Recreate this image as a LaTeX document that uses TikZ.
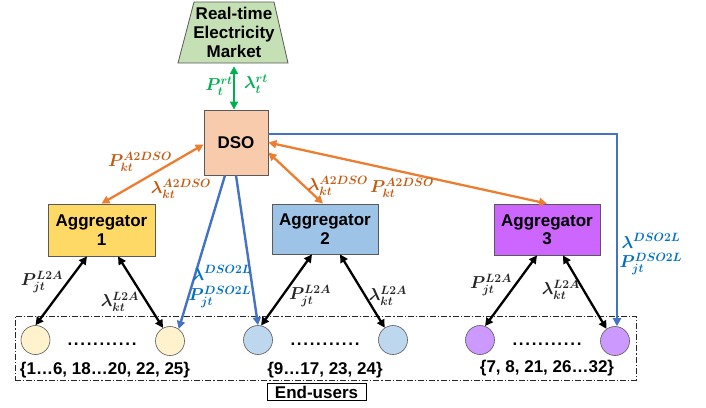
\documentclass[tikz,border=0pt]{standalone}
\usepackage{amsmath,bm}
\usepackage{fontspec}
\setmainfont{Liberation Sans}
\DeclareMathSizes{18}{18}{11.5}{9}
\usetikzlibrary{arrows.meta,calc}
\definecolor{boxline}{HTML}{595959}
\definecolor{dsofill}{HTML}{F8CBAD}
\definecolor{mktfill}{HTML}{C5E0B4}
\definecolor{aoneF}{HTML}{FFD966}
\definecolor{atwoF}{HTML}{9DC3E6}
\definecolor{athreeF}{HTML}{CC66FF}
\definecolor{cyel}{HTML}{FFF2CC}
\definecolor{cblue}{HTML}{BDD7EE}
\definecolor{cpurp}{HTML}{CC99FF}
\definecolor{orgline}{HTML}{ED7D31}
\definecolor{orgtext}{HTML}{C55A11}
\definecolor{blueline}{HTML}{4472C4}
\definecolor{bluetext}{HTML}{0070C0}
\definecolor{grn}{HTML}{00B050}
\definecolor{blk}{HTML}{262626}
\begin{document}
\begin{tikzpicture}[x=1pt,y=-1pt,
  box/.style={draw=boxline, line width=0.8pt, inner sep=0pt, align=center,
    font=\fontsize{17}{18.5}\selectfont\bfseries},
  ucirc/.style={circle, draw=boxline, line width=0.6pt, minimum size=29pt, inner sep=0pt},
  lab/.style={inner sep=0pt, font=\fontsize{18}{20}\selectfont},
  grp/.style={inner sep=0pt, font=\fontsize{17}{19}\selectfont\bfseries},
  dots/.style={inner sep=0pt, anchor=base, font=\fontsize{17}{19}\selectfont\bfseries\addfontfeatures{LetterSpace=10}},
  tip/.style={-{Triangle[length=8pt,width=8pt]}},
  dtip/.style={{Triangle[length=8pt,width=8pt]}-{Triangle[length=8pt,width=8pt]}},
  blkarrow/.style={dtip, draw=black, line width=2.3pt},
  orgarrow/.style={dtip, draw=orgline, line width=2.3pt},
  bluearrow/.style={tip, draw=blueline, line width=2.4pt},
  grnarrow/.style={dtip, draw=grn, line width=2.3pt}
]
\useasboundingbox (0,0) rectangle (706,407);

% market
\filldraw[fill=mktfill, draw=boxline, line width=0.8pt] (178,63) -- (194,2) -- (274,2) -- (288,63) -- cycle;
\node[inner sep=0pt, minimum width=110pt, minimum height=61pt, align=center,
  font=\fontsize{17}{19}\selectfont\bfseries] (mkt) at (234,32.5) {Real-time\\Electricity\\Market};

% DSO and aggregators
\node[box, fill=dsofill, minimum width=64pt, minimum height=65pt] (dso) at (236,142.5) {DSO};
\node[box, fill=aoneF, minimum width=107pt, minimum height=52pt] (agg1) at (101.5,230) {Aggregator\\1};
\node[box, fill=atwoF, minimum width=106pt, minimum height=50pt] (agg2) at (325,229) {Aggregator\\2};
\node[box, fill=athreeF, minimum width=106pt, minimum height=51pt] (agg3) at (547,229.5) {Aggregator\\3};

% end-user group
\node[draw=blk, line width=0.6pt, dash pattern=on 6pt off 2pt on 1.2pt off 2pt,
  minimum width=621pt, minimum height=64pt, inner sep=0pt] (grpbox) at (325.5,348) {};
\node[draw=black, line width=0.8pt, minimum width=99pt, minimum height=17pt, inner sep=0pt,
  font=\fontsize{17}{19}\selectfont\bfseries] (eu) at (316.5,392) {End-users};

\node[ucirc, fill=cyel] (c1) at (35.5,340) {};
\node[ucirc, fill=cyel] (c2) at (170,341) {};
\node[ucirc, fill=cblue] (c3) at (258,340) {};
\node[ucirc, fill=cblue] (c4) at (393,340) {};
\node[ucirc, fill=cpurp] (c5) at (480,340) {};
\node[ucirc, fill=cpurp] (c6) at (615,341) {};

\node[dots] (d1) at (102,345) {...........};
\node[dots] (d2) at (325,345) {...........};
\node[dots] (d3) at (547,345) {...........};

\node[grp] (g1) at (105,370) {\{1…6, 18…20, 22, 25\}};
\node[grp] (g2) at (325,370) {\{9…17, 23, 24\}};
\node[grp] (g3) at (547,368) {\{7, 8, 21, 26…32\}};

% green
\draw[grnarrow] ([yshift=-3pt]mkt.south) -- (mkt.south |- dso.north);
\node[lab, text=grn] (prt) at (219,86) {$\bm{P_t^{rt}}$};
\node[lab, text=grn] (lrt) at (256,84) {$\bm{\lambda_t^{rt}}$};

% orange
\draw[orgarrow] ([yshift=-2pt]dso.west) -- (agg1.north);
\draw[orgarrow] ([yshift=-10pt]dso.east) -- ([xshift=-2pt]agg2.north);
\draw[orgarrow] (dso.east) -- (agg3.north);
\node[lab, text=orgtext] (pa1) at (140,162) {$\bm{P_{kt}^{A2DSO}}$};
\node[lab, text=orgtext] (la1) at (181,189) {$\bm{\lambda_{kt}^{A2DSO}}$};
\node[lab, text=orgtext] (la2) at (338,186) {$\bm{\lambda_{kt}^{A2DSO}}$};
\node[lab, text=orgtext] (pa2) at (402,188) {$\bm{P_{kt}^{A2DSO}}$};

% blue
\draw[bluearrow] ([yshift=8.5pt]dso.east) -| ([xshift=2pt]c6.north);
\draw[bluearrow] ([xshift=-11pt]dso.south) -- (c2.54);
\draw[bluearrow] (dso.south) -- (c3.north);
\node[lab, text=bluetext] (ld1) at (222,273) {$\bm{\lambda^{DSO2L}}$};
\node[lab, text=bluetext] (pd1) at (220,297) {$\bm{P_{jt}^{DSO2L}}$};
\node[lab, text=bluetext] (ld2) at (651,241) {$\bm{\lambda^{DSO2L}}$};
\node[lab, text=bluetext] (pd2) at (651,264) {$\bm{P_{jt}^{DSO2L}}$};

% black
\draw[blkarrow] ([xshift=-14.5pt]agg1.south) -- (c1.north);
\draw[blkarrow] ([xshift=16.5pt]agg1.south) -- (c2.118);
\draw[blkarrow] ([xshift=-13pt]agg2.south) -- (c3.78);
\draw[blkarrow] ([xshift=15pt]agg2.south) -- (c4.124);
\draw[blkarrow] ([xshift=-10pt]agg3.south) -- (c5.70);
\draw[blkarrow] ([xshift=16pt]agg3.south) -- (c6.125);
\node[lab, text=blk] (pl1) at (42,282) {$\bm{P_{jt}^{L2A}}$};
\node[lab, text=blk] (ll1) at (120,302) {$\bm{\lambda_{kt}^{L2A}}$};
\node[lab, text=blk] (pl2) at (310,296) {$\bm{P_{jt}^{L2A}}$};
\node[lab, text=blk] (ll2) at (388,296) {$\bm{\lambda_{kt}^{L2A}}$};
\node[lab, text=blk] (pl3) at (491,285) {$\bm{P_{jt}^{L2A}}$};
\node[lab, text=blk] (ll3) at (561,290) {$\bm{\lambda_{kt}^{L2A}}$};
\end{tikzpicture}
\end{document}
